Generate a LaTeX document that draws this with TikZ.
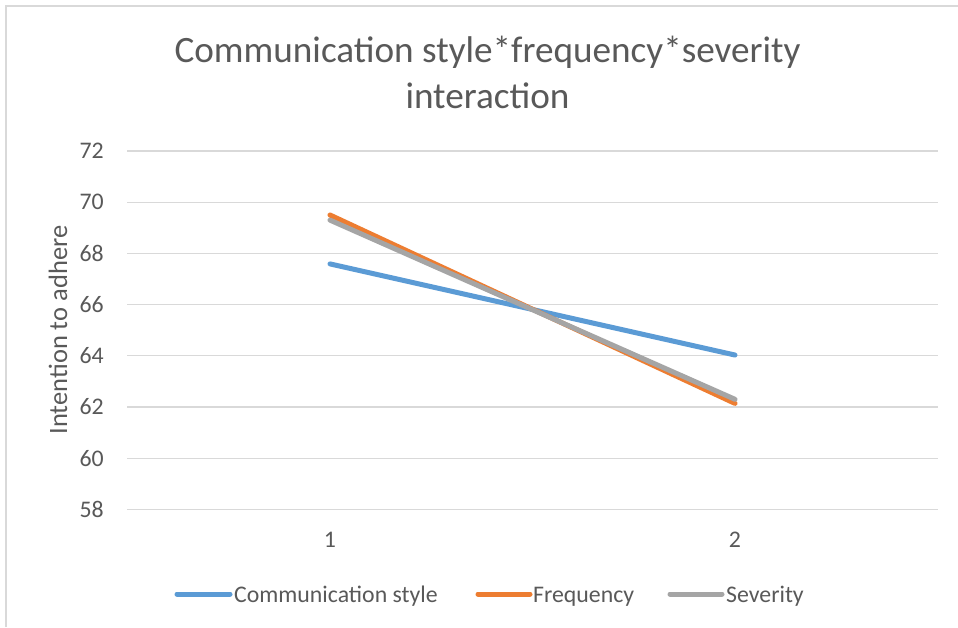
\documentclass[tikz,border=0pt]{standalone}
\usepackage{fontspec}
\setmainfont{Carlito}
\definecolor{txt}{HTML}{595959}
\definecolor{gridc}{HTML}{D9D9D9}
\definecolor{serA}{HTML}{5B9BD5}
\definecolor{serB}{HTML}{ED7D31}
\definecolor{serC}{HTML}{A5A5A5}
% value -> vertical pixel position
\newcommand{\yv}[1]{151+(72-#1)*25.6}
\begin{document}
\begin{tikzpicture}[x=1pt,y=-1pt,
  ticklbl/.style={text=txt,font=\fontsize{23.8}{28}\selectfont,inner sep=0pt},
  titlelbl/.style={text=txt,font=\fontsize{37.2}{44}\selectfont,inner sep=0pt},
  axislbl/.style={text=txt,font=\fontsize{26.5}{31}\selectfont,inner sep=0pt},
  gridline/.style={draw=gridc,line width=1.3pt},
  series/.style={line width=5pt,line cap=round,line join=round}]
  \useasboundingbox (0,0) rectangle (958,627);
  \fill[white] (0,0) rectangle (958,627);
  % chart frame (left and top edges)
  \draw[gridc,line width=1.3pt] (6,627) -- (6,6) -- (958,6);
  % title
  \node[titlelbl,anchor=base] (title1) at (487.5,62) {Communication style*frequency*severity};
  \node[titlelbl,anchor=base] (title2) at (487.5,108) {interaction};
  % horizontal gridlines and value labels
  \foreach \v in {58,60,...,72}{
    \coordinate (gl\v) at (127,{\yv{\v}});
    \coordinate (gr\v) at (938,{\yv{\v}});
    \draw[gridline] (gl\v) -- (gr\v);
    \node[ticklbl,anchor=east] (tk\v) at (104,{\yv{\v}}) {\v};
  }
  % axis title
  \node[axislbl,rotate=90] (ytitle) at (58,330) {Intention to adhere};
  % category labels
  \node[ticklbl] (cat1) at (330,540) {1};
  \node[ticklbl] (cat2) at (735,540) {2};
  % data points
  \coordinate (a1) at (330,{\yv{67.59}});
  \coordinate (a2) at (735,{\yv{64.03}});
  \coordinate (b1) at (330,{\yv{69.50}});
  \coordinate (b2) at (735,{\yv{62.14}});
  \coordinate (c1) at (330,{\yv{69.30}});
  \coordinate (c2) at (735,{\yv{62.30}});
  \draw[series,serA] (a1) -- (a2);
  \draw[series,serB] (b1) -- (b2);
  \draw[series,serC] (c1) -- (c2);
  % legend
  \coordinate (la0) at (177,594); \coordinate (la1) at (230,594);
  \coordinate (lb0) at (478,594); \coordinate (lb1) at (530,594);
  \coordinate (lc0) at (670,594); \coordinate (lc1) at (722,594);
  \draw[series,serA] (la0) -- (la1);
  \draw[series,serB] (lb0) -- (lb1);
  \draw[series,serC] (lc0) -- (lc1);
  \node[ticklbl,anchor=base west] (leg1) at (234,602) {Communication style};
  \node[ticklbl,anchor=base west] (leg2) at (533,602) {Frequency};
  \node[ticklbl,anchor=base west] (leg3) at (726,602) {Severity};
\end{tikzpicture}
\end{document}
